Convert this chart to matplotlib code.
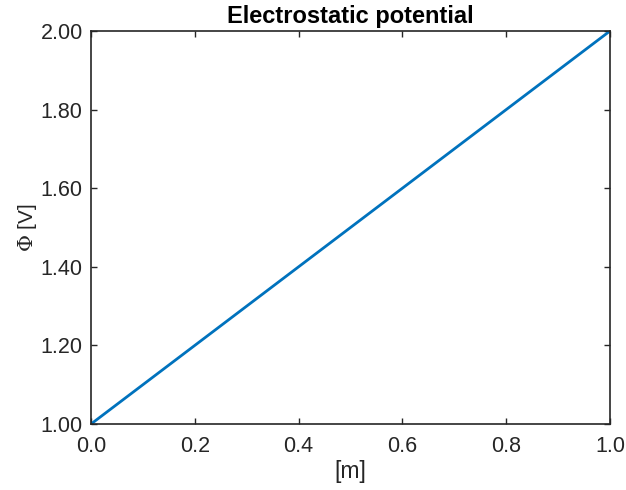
import matplotlib
matplotlib.use("Agg")
import matplotlib.pyplot as plt

# potentiaal tussen twee platen, lineair van 1 V naar 2 V
x_m = [0.0, 1.0]
phi_v = [1.0, 2.0]
x_ticks = [0.0, 0.2, 0.4, 0.6, 0.8, 1.0]
y_ticks = [1.0, 1.2, 1.4, 1.6, 1.8, 2.0]

plt.rcParams['font.family'] = ['Liberation Sans', 'DejaVu Sans']
plt.rcParams['mathtext.fontset'] = 'dejavuserif'

fig = plt.figure(figsize=(6.26, 4.90), dpi=100)
ax = fig.add_axes([0.1454, 0.1347, 0.829, 0.802])

ax.plot(x_m, phi_v, color='#0072BD', linewidth=2)
ax.set_xlim(0, 1)
ax.set_ylim(1, 2)
ax.set_xticks(x_ticks)
ax.set_xticklabels([f"{t:.1f}" for t in x_ticks])
ax.set_yticks(y_ticks)
ax.set_yticklabels([f"{t:.2f}" for t in y_ticks])

dark = '#262626'
for s in ax.spines.values():
    s.set_color(dark)
    s.set_linewidth(1.2)
ax.tick_params(direction='in', top=True, right=True, length=4, width=1,
               colors=dark, labelsize=15.5)
ax.tick_params(axis='x', pad=9)
ax.tick_params(axis='y', pad=6)

ax.set_title('Electrostatic potential', fontsize=17, fontweight='bold', pad=6)
ax.set_xlabel('[m]', fontsize=16.5, color=dark, labelpad=2)
ax.set_ylabel(r'$\Phi$ [V]', fontsize=15, color=dark, labelpad=1)

fig.savefig('out.png', dpi=100)
